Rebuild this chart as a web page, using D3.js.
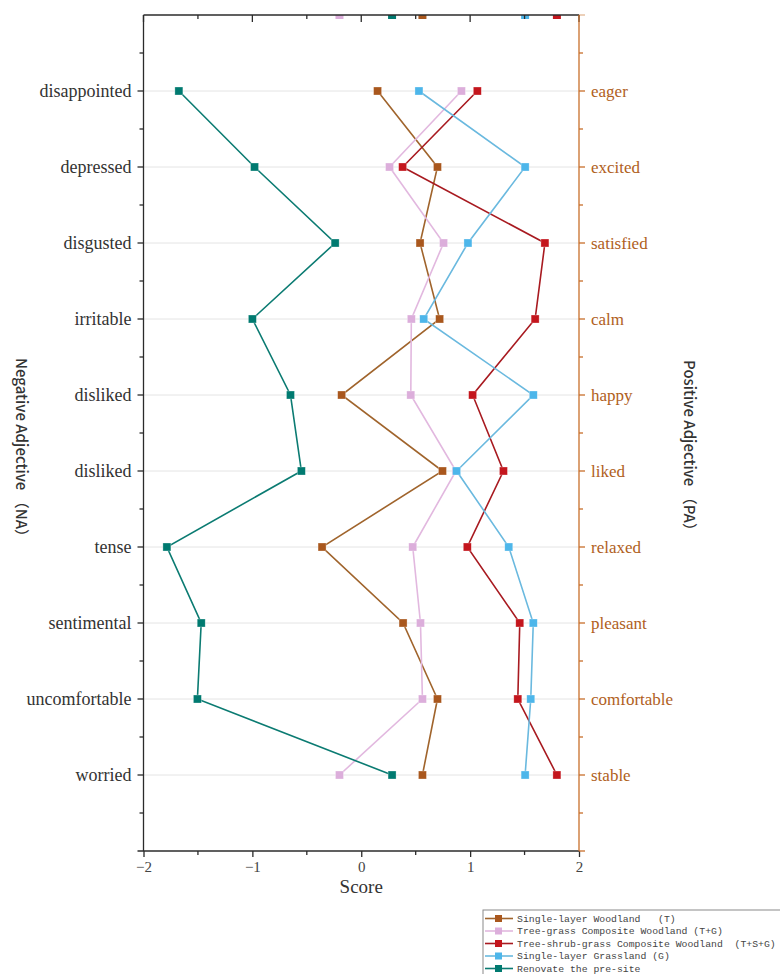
<!DOCTYPE html>
<html>
<head>
<meta charset="utf-8">
<script src="https://cdn.jsdelivr.net/npm/d3@7"></script>
<style>
  body { margin: 0; background: #fff; }
  svg { display: block; }
</style>
</head>
<body>
<svg width="780" height="974"></svg>
<script>
// rows listed top to bottom
var negLabels = ["disappointed", "depressed", "disgusted", "irritable", "disliked", "disliked", "tense", "sentimental", "uncomfortable", "worried"];
var posLabels = ["eager", "excited", "satisfied", "calm", "happy", "liked", "relaxed", "pleasant", "comfortable", "stable"];

var woodlandT   = [0.15, 0.70, 0.54, 0.72, -0.18, 0.746, -0.36, 0.384, 0.70, 0.562];
var woodlandTG  = [0.92, 0.26, 0.756, 0.46, 0.455, 0.87, 0.473, 0.544, 0.562, -0.2];
var woodlandTSG = [1.066, 0.38, 1.687, 1.597, 1.023, 1.306, 0.974, 1.456, 1.438, 1.797];
var grassG      = [0.53, 1.505, 0.98, 0.574, 1.58, 0.876, 1.355, 1.58, 1.557, 1.505];
var preSite     = [-1.675, -0.98, -0.24, -1.0, -0.65, -0.55, -1.785, -1.47, -1.505, 0.283];

var xTicks = [-2, -1, 0, 1, 2];

var series = [
  {name: "Single-layer Woodland   (T)", values: woodlandT, color: "#a9571d", line: "#a0642c"},
  {name: "Tree-grass Composite Woodland (T+G)", values: woodlandTG, color: "#dcaedb", line: "#e2b8df"},
  {name: "Tree-shrub-grass Composite Woodland  (T+S+G)", values: woodlandTSG, color: "#c4161d", line: "#a81a20"},
  {name: "Single-layer Grassland (G)", values: grassG, color: "#4db6ea", line: "#6ab9df"},
  {name: "Renovate the pre-site", values: preSite, color: "#007a70", line: "#0b7b72"}
];

var svg = d3.select("svg");
var axisColor = "#2b2b2b";
var rightColor = "#c86f2a";
var serif = "'Liberation Serif', 'DejaVu Serif', serif";

var x = d3.scaleLinear().domain([-2, 2]).range([143.5, 579]);
var y = d3.scaleLinear().domain([0, 11]).range([851, 15]);
var n = negLabels.length;
function rowPos(i) { return n - i; }

var defs = svg.append("defs");
defs.append("clipPath").attr("id", "plotClip")
  .append("rect")
  .attr("x", x(-2)).attr("y", y(11))
  .attr("width", x(2) - x(-2)).attr("height", y(0) - y(11));

// grid lines
svg.append("g").selectAll("line").data(d3.range(n)).enter().append("line")
  .attr("x1", x(-2)).attr("x2", x(2))
  .attr("y1", function(i) { return y(rowPos(i)); })
  .attr("y2", function(i) { return y(rowPos(i)); })
  .attr("stroke", "#e4e4e4").attr("stroke-width", 1);

// lines and markers
var lineGen = d3.line()
  .x(function(d) { return x(d); })
  .y(function(d, i) { return y(rowPos(i)); });

var sg = svg.append("g").selectAll("g").data(series).enter().append("g");

sg.append("path")
  .attr("d", function(s) { return lineGen(s.values); })
  .attr("fill", "none")
  .attr("stroke", function(s) { return s.line; })
  .attr("stroke-width", 1.6);

sg.selectAll("rect.pt").data(function(s) {
    return s.values.map(function(v, i) { return {v: v, i: i, c: s.color}; });
  }).enter().append("rect")
  .attr("class", "pt")
  .attr("x", function(d) { return x(d.v) - 4; })
  .attr("y", function(d) { return y(rowPos(d.i)) - 4; })
  .attr("width", 8).attr("height", 8)
  .attr("fill", function(d) { return d.c; })
  .attr("stroke", "#fff").attr("stroke-opacity", 0.5).attr("stroke-width", 0.6);

// markers repeated at the top edge (half hidden by the frame)
svg.append("g").attr("clip-path", "url(#plotClip)")
  .selectAll("rect").data(series).enter().append("rect")
  .attr("x", function(s) { return x(s.values[n - 1]) - 4; })
  .attr("y", y(11) - 4)
  .attr("width", 8).attr("height", 8)
  .attr("fill", function(s) { return s.color; });

// bottom axis
var bottomAxis = svg.append("g")
  .attr("transform", "translate(0," + y(0) + ")")
  .call(d3.axisBottom(x).tickValues(xTicks).tickSize(6).tickPadding(4)
    .tickFormat(function(d) { return d < 0 ? "\u2212" + Math.abs(d) : d; }));
bottomAxis.select(".domain").remove();
bottomAxis.selectAll("line").attr("stroke", axisColor).attr("stroke-width", 1.3);
bottomAxis.selectAll("text").attr("font-family", serif).attr("font-size", 15).attr("fill", "#444");
bottomAxis.append("g").selectAll("line").data(d3.range(-1.5, 2, 1)).enter().append("line")
  .attr("x1", function(d) { return x(d); }).attr("x2", function(d) { return x(d); })
  .attr("y1", 0).attr("y2", 4).attr("stroke", axisColor).attr("stroke-width", 1.3);
bottomAxis.append("line").attr("x1", x(-2) - 6).attr("x2", x(2))
  .attr("stroke", axisColor).attr("stroke-width", 1.3);
bottomAxis.append("line").attr("x1", x(2)).attr("x2", x(2) + 6)
  .attr("stroke", rightColor).attr("stroke-width", 1.3);

// top axis, ticks pointing inward, no labels
var topAxis = svg.append("g").attr("transform", "translate(0," + y(11) + ")");
topAxis.selectAll("line.t").data(d3.range(-2, 2.01, 0.5)).enter().append("line")
  .attr("x1", function(d) { return x(d); }).attr("x2", function(d) { return x(d); })
  .attr("y1", 0).attr("y2", function(d) { return d % 1 === 0 ? 7 : 4; })
  .attr("stroke", axisColor).attr("stroke-width", 1.3);
topAxis.append("line").attr("x1", x(-2)).attr("x2", x(2))
  .attr("stroke", axisColor).attr("stroke-width", 1.3);
topAxis.append("line").attr("x1", x(2)).attr("x2", x(2) + 6)
  .attr("stroke", rightColor).attr("stroke-opacity", 0.5).attr("stroke-width", 1.3);

// left axis
var leftAxis = svg.append("g").attr("transform", "translate(" + x(-2) + ",0)");
leftAxis.append("line").attr("y1", y(11)).attr("y2", y(0))
  .attr("stroke", axisColor).attr("stroke-width", 1.3);
leftAxis.selectAll("line.t").data(d3.range(0.5, 11, 0.5)).enter().append("line")
  .attr("x1", function(d) { return d % 1 === 0 ? -6 : -4; }).attr("x2", 0)
  .attr("y1", function(d) { return y(d); }).attr("y2", function(d) { return y(d); })
  .attr("stroke", axisColor).attr("stroke-width", 1.3);
leftAxis.selectAll("text").data(negLabels).enter().append("text")
  .attr("x", -12)
  .attr("y", function(d, i) { return y(rowPos(i)); })
  .attr("dy", "0.33em")
  .attr("text-anchor", "end")
  .attr("font-family", serif).attr("font-size", 18).attr("fill", "#333")
  .text(function(d) { return d; });

// right axis
var rightAxis = svg.append("g").attr("transform", "translate(" + x(2) + ",0)");
rightAxis.append("line").attr("y1", y(11)).attr("y2", y(0))
  .attr("stroke", rightColor).attr("stroke-width", 1.3);
rightAxis.selectAll("line.t").data(d3.range(0.5, 11, 0.5)).enter().append("line")
  .attr("x1", 0).attr("x2", function(d) { return d % 1 === 0 ? 6 : 4; })
  .attr("y1", function(d) { return y(d); }).attr("y2", function(d) { return y(d); })
  .attr("stroke", rightColor).attr("stroke-width", 1.3);
rightAxis.selectAll("text").data(posLabels).enter().append("text")
  .attr("x", 12)
  .attr("y", function(d, i) { return y(rowPos(i)); })
  .attr("dy", "0.33em")
  .attr("font-family", serif).attr("font-size", 17).attr("fill", "#b0601c")
  .text(function(d) { return d; });

// axis titles
svg.append("text")
  .attr("x", (x(-2) + x(2)) / 2).attr("y", 893)
  .attr("text-anchor", "middle")
  .attr("font-family", serif).attr("font-size", 19).attr("fill", "#333")
  .text("Score");

svg.append("text")
  .attr("transform", "translate(16," + 451 + ") rotate(90)")
  .attr("text-anchor", "middle")
  .attr("font-family", "'Noto Sans CJK SC', 'Noto Sans', sans-serif")
  .attr("font-size", 15).attr("font-weight", 500).attr("fill", "#333")
  .text("Negative Adjective \uFF08NA\uFF09");

svg.append("text")
  .attr("transform", "translate(684," + 449 + ") rotate(90)")
  .attr("text-anchor", "middle")
  .attr("font-family", "'Noto Sans CJK SC', 'Noto Sans', sans-serif")
  .attr("font-size", 15).attr("font-weight", 500).attr("fill", "#333")
  .text("Positive Adjective \uFF08PA\uFF09");

// legend
var legend = svg.append("g").attr("transform", "translate(483,910)");
legend.append("rect")
  .attr("width", 310).attr("height", 70)
  .attr("fill", "#fff").attr("stroke", "#8a8a8a").attr("stroke-width", 1);
var li = legend.selectAll("g").data(series).enter().append("g")
  .attr("transform", function(d, i) { return "translate(0," + (8.5 + i * 12.5) + ")"; });
li.append("line").attr("x1", 2).attr("x2", 30)
  .attr("stroke", function(d) { return d.line; }).attr("stroke-width", 1.6);
li.append("rect").attr("x", 12).attr("y", -3.5).attr("width", 7).attr("height", 7)
  .attr("fill", function(d) { return d.color; });
li.append("text")
  .attr("x", 34).attr("dy", "0.35em")
  .attr("xml:space", "preserve")
  .style("white-space", "pre")
  .attr("font-family", "'Liberation Mono', 'DejaVu Sans Mono', monospace")
  .attr("font-size", 9.8).attr("fill", "#444")
  .text(function(d) { return d.name; });
</script>
</body>
</html>
